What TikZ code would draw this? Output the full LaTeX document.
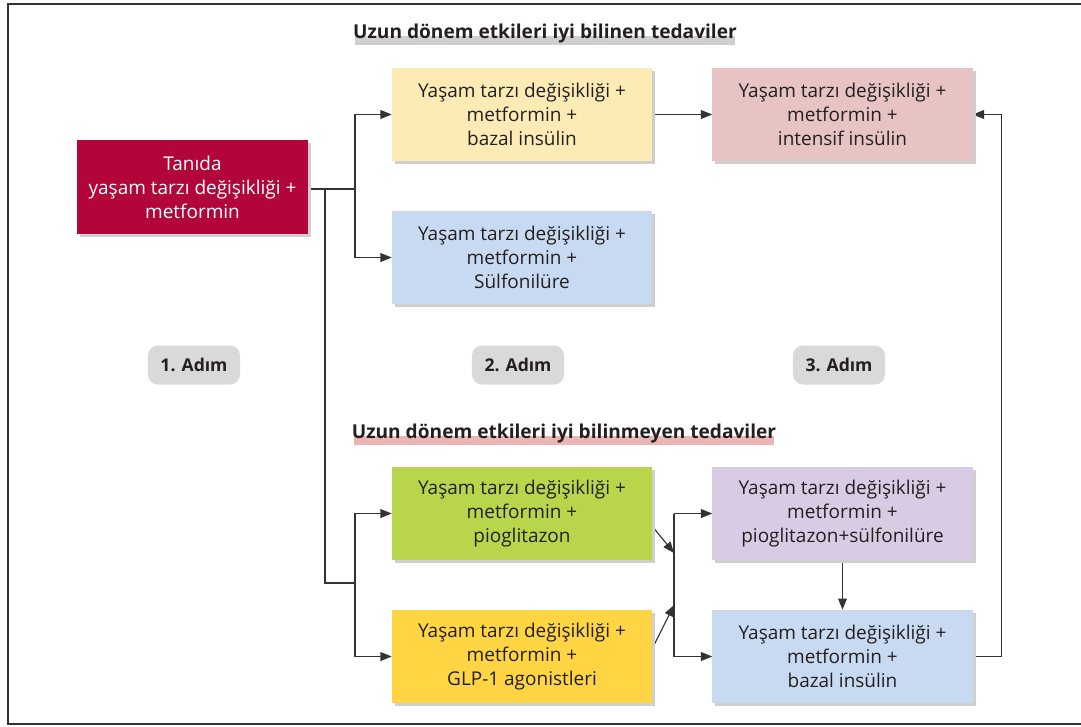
\documentclass[tikz,border=0pt]{standalone}
\usepackage{fontspec}
\setmainfont{Open Sans}
\usetikzlibrary{arrows.meta,backgrounds,calc,shadows}
\definecolor{ink}{HTML}{231F20}
\definecolor{linegray}{HTML}{333333}
\definecolor{diagred}{HTML}{B2063A}
\definecolor{basalyellow}{HTML}{FDEBB5}
\definecolor{intensivepink}{HTML}{E7C3C3}
\definecolor{sulfoblue}{HTML}{C8DAF1}
\definecolor{piogreen}{HTML}{B9D54B}
\definecolor{glpgold}{HTML}{FFD543}
\definecolor{comboviolet}{HTML}{D9CBE3}
\definecolor{stepgray}{HTML}{D9D9D9}
\definecolor{bandgray}{HTML}{CFCFCF}
\definecolor{bandpink}{HTML}{E9B5B5}
\tikzset{
  box/.style={
    fill=white,
    text=ink,
    minimum width=6.5cm,
    minimum height=2.325cm,
    inner sep=0pt,
    align=center,
    font=\fontsize{13.5}{17}\selectfont,
    drop shadow={shadow xshift=0.075cm,shadow yshift=-0.075cm,opacity=1,fill=bandgray}
  },
  startbox/.style={box,fill=diagred,text=white,minimum width=5.775cm,minimum height=2.35cm},
  yellowbox/.style={box,fill=basalyellow},
  pinkbox/.style={box,fill=intensivepink},
  bluebox/.style={box,fill=sulfoblue},
  greenbox/.style={box,fill=piogreen},
  goldbox/.style={box,fill=glpgold},
  violetbox/.style={box,fill=comboviolet},
  steplabel/.style={
    fill=stepgray,
    text=ink,
    rounded corners=0.25cm,
    minimum width=2.3cm,
    minimum height=0.975cm,
    inner sep=0pt,
    font=\bfseries\fontsize{12.5}{15}\selectfont
  },
  heading/.style={
    text=ink,
    inner sep=0pt,
    font=\bfseries\fontsize{13.6}{16}\selectfont
  },
  flow/.style={
    -{Triangle[length=2.8mm,width=2.2mm]},
    draw=linegray,
    line width=0.8pt
  },
  link/.style={
    draw=linegray,
    line width=0.8pt
  }
}

\begin{document}
\begin{tikzpicture}[x=0.025cm,y=-0.025cm]

  \useasboundingbox (0,0) rectangle (1081,726);
  \draw[linegray,line width=1.4pt] (1085,4) -- (8,4) -- (8,724) -- (1085,724);

  % Headings with their coloured bands.
  \node[heading] (knownhead) at (545,34) {Uzun dönem etkileri iyi bilinen tedaviler};
  \node[heading] (unknownhead) at (564,434) {Uzun dönem etkileri iyi bilinmeyen tedaviler};

  % First and second step boxes.
  \node[startbox] (tanida) at (192.5,187)
    {Tanıda\\yaşam tarzı değişikliği +\\metformin};

  \node[yellowbox] (basal) at (522,114.5)
    {Yaşam tarzı değişikliği +\\metformin +\\bazal insülin};

  \node[bluebox] (sulfo) at (522,257.5)
    {Yaşam tarzı değişikliği +\\metformin +\\Sülfonilüre};

  \node[greenbox] (pio) at (522,513.5)
    {Yaşam tarzı değişikliği +\\metformin +\\pioglitazon};

  \node[goldbox] (glp) at (522,656.5)
    {Yaşam tarzı değişikliği +\\metformin +\\GLP-1 agonistleri};

  % Third step boxes.
  \node[pinkbox] (intensive) at (842.5,114.5)
    {Yaşam tarzı değişikliği +\\metformin +\\intensif insülin};

  \node[violetbox] (piosulfo) at (842.5,513.5)
    {Yaşam tarzı değişikliği +\\metformin +\\pioglitazon+sülfonilüre};

  \node[bluebox] (lowbasal) at (842.5,656.5)
    {Yaşam tarzı değişikliği +\\metformin +\\bazal insülin};

  \node[steplabel] (stepone) at (194,365) {1. Adım};
  \node[steplabel] (steptwo) at (518,365) {2. Adım};
  \node[steplabel] (stepthree) at (839,365) {3. Adım};

  \coordinate (upfork) at (355,189);
  \coordinate (downfork) at (325,189);
  \coordinate (lowfork) at (355,583);
  \coordinate (midtop) at (674,513.5);
  \coordinate (midbot) at (674,656.5);
  \coordinate (pioin) at (674,553);
  \coordinate (glpin) at (674,605);

  \begin{scope}[on background layer]
    \fill[bandgray] ($(knownhead.base west)+(2,-3)$) rectangle ($(knownhead.base east)+(-2,6)$);
    \fill[bandpink] ($(unknownhead.base west)+(2,-3)$) rectangle ($(unknownhead.base east)+(-2,6)$);

    \draw[link] ($(tanida.east)+(0,2)$) -- (upfork);
    \draw[flow] (upfork) |- (basal.west);
    \draw[flow] (upfork) |- (sulfo.west);
    \draw[link] (downfork) |- (lowfork);
    \draw[flow] (lowfork) |- (pio.west);
    \draw[flow] (lowfork) |- (glp.west);

    \draw[flow] (basal.east) -- (intensive.west);

    \draw[flow] ($(pio.east)+(1,14)$) -- (pioin);
    \draw[flow] ($(glp.east)+(1,-10)$) -- (glpin);
    \draw[link] (midtop) -- (midbot);
    \draw[flow] (midtop) -- (piosulfo.west);
    \draw[flow] (midbot) -- (lowbasal.west);

    \draw[flow] (piosulfo.south) -- (lowbasal.north);
    \draw[flow] (lowbasal.east) -- ++(29,0) |- (intensive.east);
  \end{scope}

\end{tikzpicture}
\end{document}
